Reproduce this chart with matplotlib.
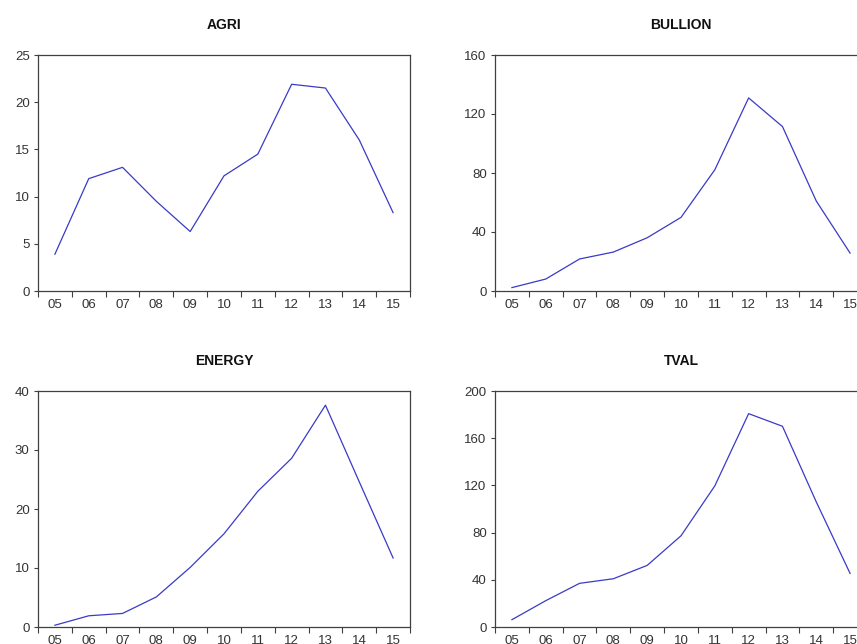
import numpy as np
import matplotlib.pyplot as plt
from matplotlib.ticker import FixedLocator, NullFormatter, FixedFormatter

plt.rcParams['font.family'] = ['Liberation Sans', 'DejaVu Sans']

#### DATA ####
years = ['05', '06', '07', '08', '09', '10', '11', '12', '13', '14', '15']

agri = [3.9, 11.9, 13.1, 9.5, 6.3, 12.2, 14.5, 21.9, 21.5, 16.0, 8.3]
bullion = [2.3, 8.1, 21.7, 26.4, 36.1, 49.9, 82.2, 130.9, 111.5, 61.0, 25.7]
energy = [0.3, 1.9, 2.3, 5.1, 10.1, 15.8, 23.0, 28.6, 37.6, 24.6, 11.7]
tval = [6.2, 22.3, 37.0, 40.9, 52.2, 77.3, 119.6, 180.8, 170.1, 106.0, 45.4]

agri_ticks = [0, 5, 10, 15, 20, 25]
bullion_ticks = [0, 40, 80, 120, 160]
energy_ticks = [0, 10, 20, 30, 40]
tval_ticks = [0, 40, 80, 120, 160, 200]

#### LAYOUT ####
W, H = 857, 644
fig = plt.figure(figsize=(W / 100, H / 100), dpi=100)

def px_axes(left, top, right, bottom):
    # convert pixel box to figure fraction
    return fig.add_axes([left / W, 1 - bottom / H, (right - left) / W, (bottom - top) / H])

# the source image is cropped on the right and bottom, so the right-hand
# panels run past the edge like in the original screenshot
panels = [
    ('AGRI', agri, agri_ticks, (38, 55, 410, 291)),
    ('BULLION', bullion, bullion_ticks, (495, 55, 867, 291)),
    ('ENERGY', energy, energy_ticks, (38, 391, 410, 627)),
    ('TVAL', tval, tval_ticks, (495, 391, 867, 627)),
]

x = np.arange(len(years))
for title, vals, yt, box in panels:
    ax = px_axes(*box)
    ax.plot(x, vals, color='#3a3ac8', lw=0.9)
    ax.set_xlim(-0.5, len(years) - 0.5)
    ax.set_ylim(yt[0], yt[-1])
    ax.set_yticks(yt)
    ax.set_yticklabels([str(v) for v in yt])
    # ticks at category boundaries, labels at centers
    ax.xaxis.set_major_locator(FixedLocator(np.arange(-0.5, len(years), 1.0)))
    ax.xaxis.set_major_formatter(NullFormatter())
    ax.xaxis.set_minor_locator(FixedLocator(x))
    ax.xaxis.set_minor_formatter(FixedFormatter(years))
    ax.tick_params(axis='x', which='major', direction='out', length=4, width=0.8, color='#404040')
    ax.tick_params(axis='x', which='minor', length=0, pad=6, labelsize=9.5, labelcolor='#333333')
    ax.tick_params(axis='y', direction='out', length=3, width=0.8, color='#404040',
                   pad=3, labelsize=9.5, labelcolor='#333333')
    for s in ax.spines.values():
        s.set_color('#404040')
        s.set_linewidth(0.9)
    ax.set_title(title, fontsize=10, fontweight='bold', color='#111111', pad=19)

fig.savefig('out.png', dpi=100)
